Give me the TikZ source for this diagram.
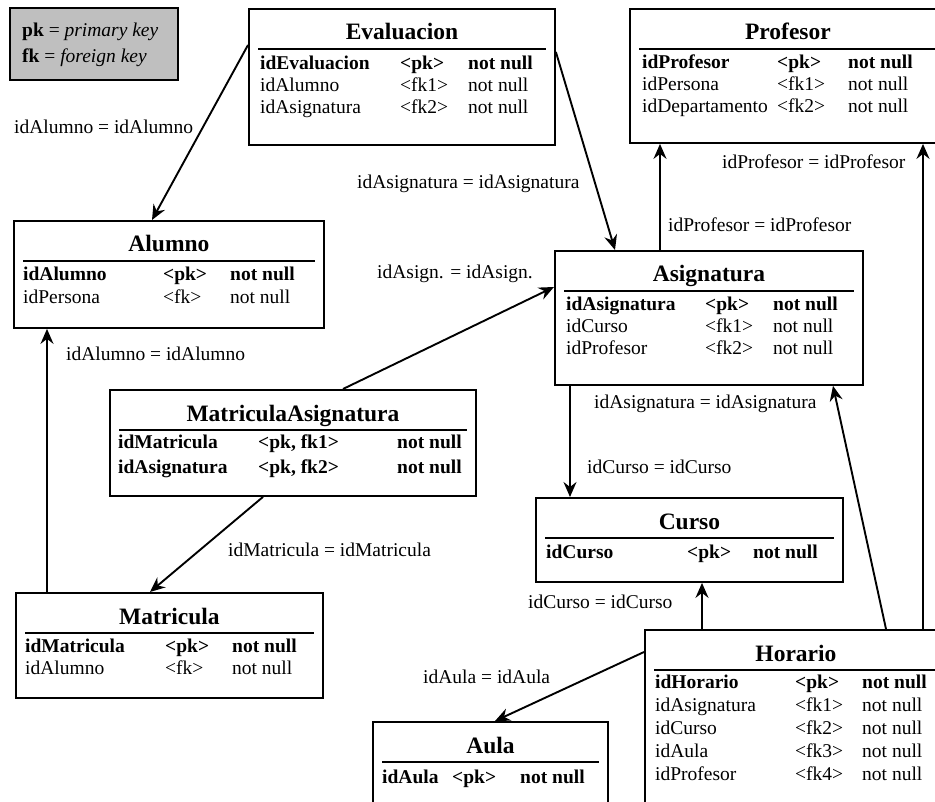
\documentclass[tikz,border=0pt]{standalone}
\usepackage{fontspec}
\setmainfont{Liberation Serif}
\usetikzlibrary{calc,arrows.meta}

\newcounter{cellno}
% table frame with centred title and rule under it
\newcommand\erbox[6]{% name, x0, y0, width, height, title
  \node[tblbox, minimum width=#4pt, minimum height=#5pt, anchor=north west] (#1) at (#2,#3) {};
  \node[ttl, anchor=base] (#1-title) at ($(#1.north)+(0,32)$) {#6};
  \draw[rulel] ([xshift=10pt,yshift=-41pt]#1.north west) -- ([xshift=-10pt,yshift=-41pt]#1.north east);
}
% one attribute row: baseline y, then x and text of the three columns
\newcommand\erow[7]{%
  \stepcounter{cellno}%
  \node[cell] (c\arabic{cellno}a) at (#2,#1) {#3};
  \node[cell] (c\arabic{cellno}b) at (#4,#1) {#5};
  \node[cell] (c\arabic{cellno}c) at (#6,#1) {#7};
}

\tikzset{
  tblbox/.style={draw=black, line width=1.9pt, fill=white, inner sep=0pt},
  ttl/.style={inner sep=0pt, font=\fontsize{23.5}{26}\selectfont\bfseries},
  rulel/.style={line width=1.9pt},
  cell/.style={inner sep=0pt, anchor=base west, font=\fontsize{19.5}{22}\selectfont},
  lbl/.style={inner sep=0pt, anchor=base west, font=\fontsize{19.5}{22}\selectfont},
  conn/.style={line width=1.9pt, -{Stealth[length=15pt,width=13pt,inset=5pt]}},
}

\begin{document}
\begin{tikzpicture}[x=1pt,y=-1pt]
\useasboundingbox (0,0) rectangle (935,802);
\clip (0,0) rectangle (935,802);
\fill[white] (0,0) rectangle (935,802);

% legend
\node[draw=black, line width=1.9pt, fill=black!25, minimum width=168pt, minimum height=72pt, anchor=north west, inner sep=0pt] (legend) at (9,7) {};
\node[cell] (leg1) at (22,37) {\textbf{pk} = \textit{primary key}};
\node[cell] (leg2) at (22,63) {\textbf{fk} = \textit{foreign key}};

% tables
\erbox{eval}{248}{8}{306}{136}{Evaluacion}
\erow{70}{260}{\bfseries idEvaluacion}{400}{\bfseries <pk>}{468}{\bfseries not null}
\erow{92}{260}{idAlumno}{400}{<fk1>}{468}{not null}
\erow{114}{260}{idAsignatura}{400}{<fk2>}{468}{not null}

\erbox{prof}{629}{8}{316}{134}{Profesor}
\erow{69}{642}{\bfseries idProfesor}{777}{\bfseries <pk>}{848}{\bfseries not null}
\erow{91}{642}{idPersona}{777}{<fk1>}{848}{not null}
\erow{113}{642}{idDepartamento}{777}{<fk2>}{848}{not null}

\erbox{alumno}{13}{220}{310}{107}{Alumno}
\erow{281}{23}{\bfseries idAlumno}{163}{\bfseries <pk>}{230}{\bfseries not null}
\erow{304}{23}{idPersona}{163}{<fk>}{230}{not null}

\erbox{asig}{554}{250}{308}{134}{Asignatura}
\erow{311}{566}{\bfseries idAsignatura}{705}{\bfseries <pk>}{773}{\bfseries not null}
\erow{333}{566}{idCurso}{705}{<fk1>}{773}{not null}
\erow{355}{566}{idProfesor}{705}{<fk2>}{773}{not null}

\erbox{matasig}{109}{389}{366}{106}{MatriculaAsignatura}
\erow{449}{118}{\bfseries idMatricula}{258}{\bfseries <pk, fk1>}{397}{\bfseries not null}
\erow{473}{118}{\bfseries idAsignatura}{258}{\bfseries <pk, fk2>}{397}{\bfseries not null}

\erbox{curso}{535}{497}{307}{84}{Curso}
\erow{558}{546}{\bfseries idCurso}{687}{\bfseries <pk>}{753}{\bfseries not null}

\erbox{mat}{15}{592}{307}{105}{Matricula}
\erow{652}{25}{\bfseries idMatricula}{165}{\bfseries <pk>}{232}{\bfseries not null}
\erow{674}{25}{idAlumno}{165}{<fk>}{232}{not null}

\erbox{aula}{372}{721}{235}{120}{Aula}
\erow{783}{382}{\bfseries idAula}{452}{\bfseries <pk>}{520}{\bfseries not null}

\erbox{hor}{644}{629}{302}{200}{Horario}
\erow{688}{655}{\bfseries idHorario}{795}{\bfseries <pk>}{862}{\bfseries not null}
\erow{711}{655}{idAsignatura}{795}{<fk1>}{862}{not null}
\erow{734}{655}{idCurso}{795}{<fk2>}{862}{not null}
\erow{757}{655}{idAula}{795}{<fk3>}{862}{not null}
\erow{780}{655}{idProfesor}{795}{<fk4>}{862}{not null}

% foreign key references
\draw[conn] ([yshift=-37pt]eval.north west) -- ([xshift=139pt]alumno.north west);
\draw[conn] ([yshift=-44pt]eval.north east) -- ([xshift=61pt]asig.north west);
\draw[conn] ([xshift=106pt]asig.north west) -- ([xshift=31pt]prof.south west);
\draw[conn] ([xshift=279pt]hor.north west) -- ([xshift=294pt]prof.south west);
\draw[conn] ([xshift=234pt]matasig.north west) -- ([yshift=-37pt]asig.north west);
\draw[conn] ([xshift=32pt]mat.north west) -- ([xshift=34pt]alumno.south west);
\draw[conn] ([xshift=154pt]matasig.south west) -- ([xshift=135pt]mat.north west);
\draw[conn] ([xshift=16pt]asig.south west) -- ([xshift=35pt]curso.north west);
\draw[conn] ([xshift=242pt]hor.north west) -- ([xshift=279pt]asig.south west);
\draw[conn] ([xshift=58pt]hor.north west) -- ([xshift=167pt]curso.south west);
\draw[conn] ([yshift=-23pt]hor.north west) -- ([xshift=123pt]aula.north west);

% join labels
\node[lbl] (l1) at (14,134) {idAlumno = idAlumno};
\node[lbl] (l2) at (357,189) {idAsignatura = idAsignatura};
\node[lbl] (l3) at (668,232) {idProfesor = idProfesor};
\node[lbl] (l4) at (722,169) {idProfesor = idProfesor};
\node[lbl] (l5) at (377,279) {idAsign. = idAsign.};
\node[lbl] (l6) at (66,361) {idAlumno = idAlumno};
\node[lbl] (l7) at (228,556) {idMatricula = idMatricula};
\node[lbl] (l8) at (587,473) {idCurso = idCurso};
\node[lbl] (l9) at (594,409) {idAsignatura = idAsignatura};
\node[lbl] (l10) at (528,608) {idCurso = idCurso};
\node[lbl] (l11) at (423,683) {idAula = idAula};
\end{tikzpicture}
\end{document}
